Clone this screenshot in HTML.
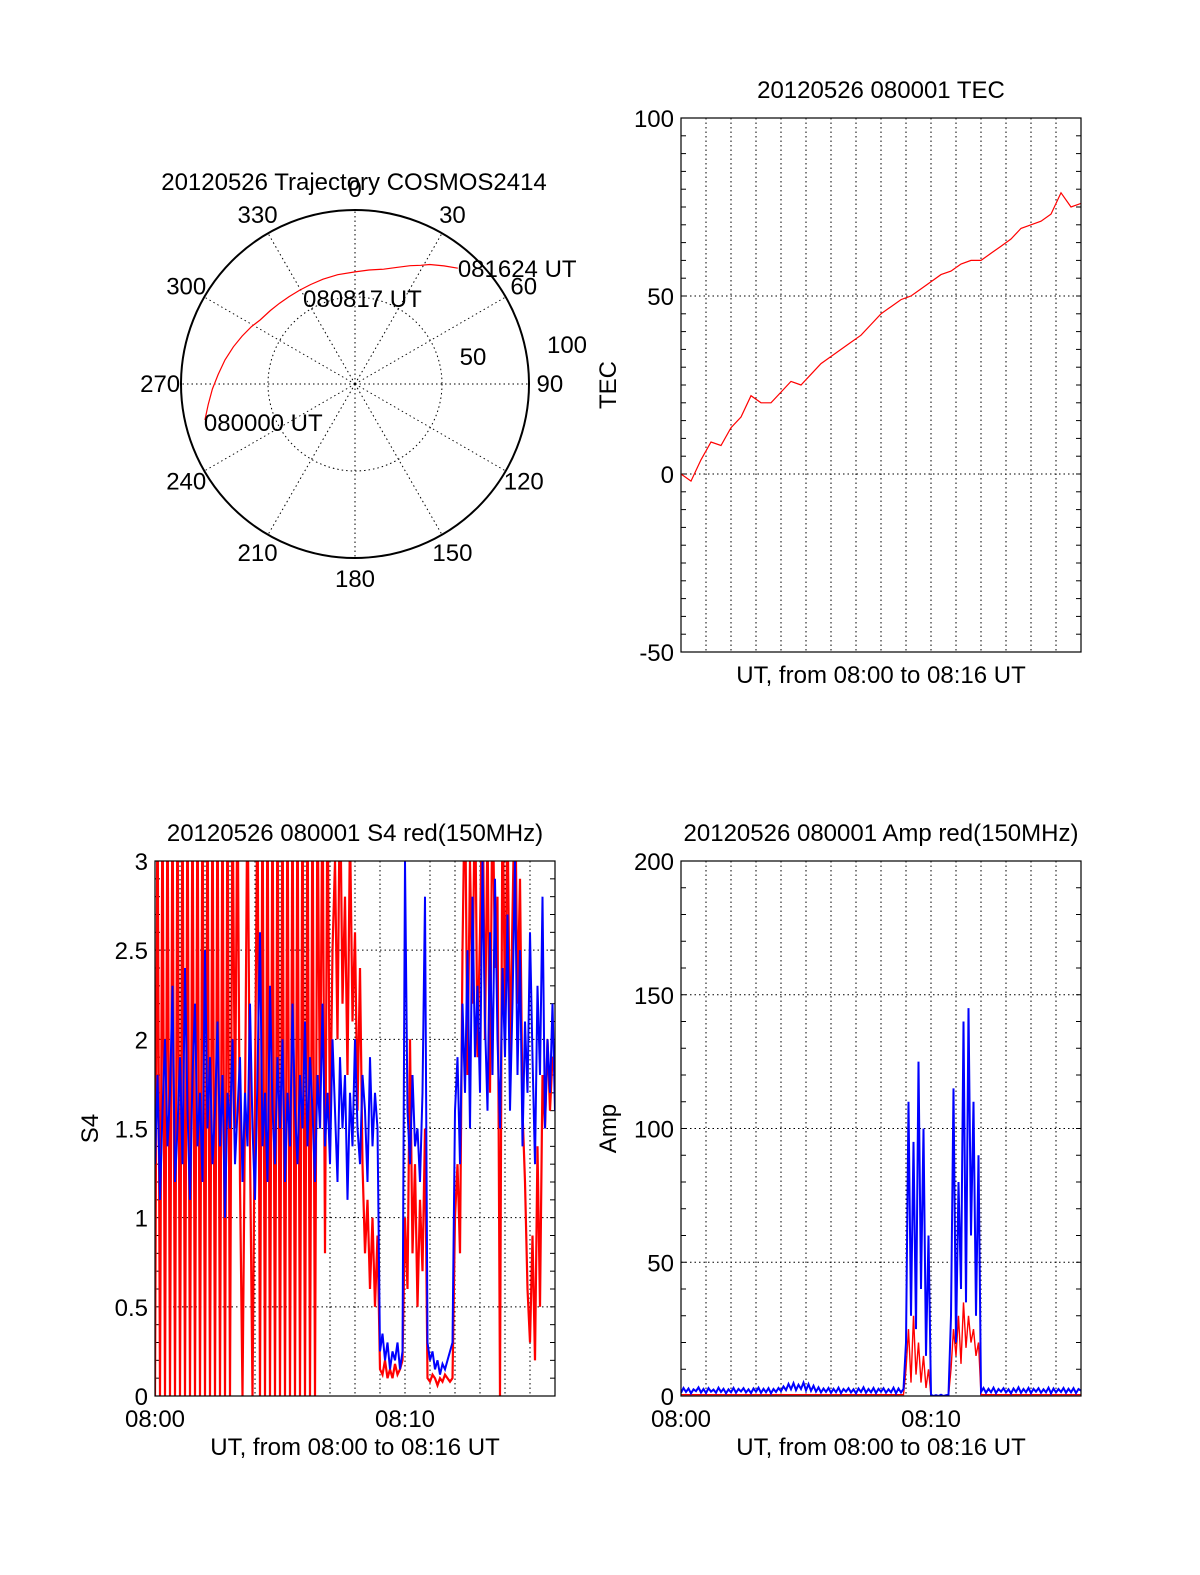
<!DOCTYPE html>
<html><head><meta charset="utf-8">
<style>
html,body{margin:0;padding:0;background:#fff;}
svg{display:block;font-family:"Liberation Sans",sans-serif;}
text{fill:#000;font-size:24px;}
</style></head>
<body>
<svg id="chart" width="1200" height="1575" viewBox="0 0 1200 1575" xmlns="http://www.w3.org/2000/svg">
<rect width="1200" height="1575" fill="#fff"/>
</svg>
<script>
// ---- data ----
const trajAz = [256.5, 262, 268, 274, 280.5, 287, 293, 299, 304, 311, 317, 323, 329.7, 336, 343, 351, 0, 7, 14, 20, 25, 29, 32, 37, 41.6];
const trajZen = [88.7, 85.2, 82, 78.8, 76, 73.1, 70.5, 68, 65.8, 64.4, 63.5, 62.9, 62.6, 62.6, 63, 63.6, 64.4, 66, 68, 71.4, 75, 78, 81, 85, 89];
const trajLabels = ["080000 UT", "080817 UT", "081624 UT"];
const polarAngles = [0,30,60,90,120,150,180,210,240,270,300,330];

const tecTimes = [0,0.4,0.8,1.2,1.6,2.0,2.4,2.8,3.2,3.6,4.0,4.4,4.8,5.2,5.6,6.0,6.4,6.8,7.2,7.6,8.0,8.4,8.8,9.2,9.6,10.0,10.4,10.8,11.2,11.6,12.0,12.4,12.8,13.2,13.6,14.0,14.4,14.8,15.2,15.6,16.0];
const tecValues = [0,-2,4,9,8,13,16,22,20,20,23,26,25,28,31,33,35,37,39,42,45,47,49,50,52,54,56,57,59,60,60,62,64,66,69,70,71,73,79,75,76];
const tecTicks = ["100","50","0","-50"];

const s4Blue = [1.3,1.8,1.1,1.6,2.0,1.4,1.7,2.3,1.2,1.5,
1.9,1.3,2.4,1.6,1.1,1.8,2.2,1.4,1.7,1.2,
2.5,1.5,1.9,1.3,1.6,2.1,1.4,1.8,1.0,1.7,
1.5,2.0,1.3,1.6,1.9,1.2,1.7,1.4,2.2,1.5,
1.1,1.8,2.6,1.4,1.7,1.2,2.3,1.6,1.3,1.9,
1.5,2.0,1.2,1.7,1.4,2.2,1.6,1.3,1.8,1.5,
2.1,1.4,1.9,1.6,1.2,1.8,1.5,2.2,1.4,1.7,
1.3,2.0,1.6,1.2,1.9,1.5,1.8,1.1,1.7,1.4,
2.0,1.5,1.3,1.8,1.6,1.2,1.9,1.4,1.7,1.5,
0.25,0.35,0.2,0.3,0.15,0.25,0.2,0.3,0.15,0.25,
3.0,1.6,1.3,1.8,1.4,1.5,1.2,1.7,2.8,
0.3,0.2,0.25,0.15,0.2,0.12,0.18,0.15,0.2,0.25,0.3,
1.6,1.9,1.3,2.2,1.7,2.5,1.5,2.8,1.9,2.3,
1.7,3.0,2.1,1.6,2.6,1.8,2.9,2.0,1.5,2.4,
1.9,2.7,1.6,2.2,3.0,1.8,2.5,1.4,2.1,1.7,
2.6,1.9,1.3,2.3,1.8,2.8,1.5,2.0,1.7,2.2,1.6];
const s4Red = [0,3.5,0,3.5,0,3.5,0,3.5,0,3.5,0,3.5,0,3.5,0,3.5,
0,3.5,0,3.5,0,3.5,0,3.5,0,3.5,0,3.5,0,3.5,0,3.5,
1.5,3.5,1.2,0,1.6,3.5,1.4,0,1.7,3.5,
0,3.5,0,3.5,0,3.5,0,3.5,0,3.5,0,3.5,0,3.5,0,3.5,0,3.5,0,3.5,0,3.5,0,3.5,
1.5,3.5,0.8,3.5,1.4,
2.5,3.0,2.0,3.5,2.2,2.8,1.8,3.2,2.1,2.6,1.6,2.4,
1.3,0.8,1.1,0.6,1.0,0.5,0.9,
0.15,0.12,0.2,0.1,0.15,0.1,0.18,0.12,0.15,0.2,
1.0,0.6,2.0,0.8,1.3,0.5,1.1,0.7,1.5,
0.1,0.08,0.12,0.1,0.06,0.1,0.08,0.12,0.1,0.08,0.1,
1.0,1.3,0.8,2.5,3.5,1.8,3.0,2.2,3.5,1.9,
2.6,3.5,2.0,3.2,1.7,3.5,2.4,2.8,0.0,3.5,
2.1,3.3,1.9,2.7,3.5,2.2,2.9,1.6,1.2,0.6,
0.3,0.9,0.2,1.4,0.5,1.8,1.5,2.0,1.6,1.9,1.8];
const s4Ticks = ["3","2.5","2","1.5","1","0.5","0"];

const ampBlue = [1.2,3,1.5,2.8,1,2.5,1.8,3.2,1.3,2.6,
1.1,2.9,1.6,2.4,1.2,3.1,1.5,2.7,1.0,2.5,
1.4,3,1.2,2.6,1.7,2.9,1.3,2.5,1.1,2.8,
1.6,3.1,1.2,2.7,1.4,2.9,1.0,2.6,1.5,3,
1.8,3.6,2.2,4.5,2.5,4.8,2.2,4.2,2.6,5,
2.1,4.4,1.9,3.8,1.6,3.2,1.3,2.8,1.5,3,
1.2,2.7,1.4,3.1,1.1,2.6,1.6,2.9,1.3,2.5,
1.0,2.8,1.5,3.2,1.2,2.6,1.4,3,1.1,2.7,
1.6,2.9,1.2,2.5,1.4,3.1,1.0,2.8,1.3,2.6,
20,110,30,95,25,125,40,100,15,60,
0.5,0,0.3,0,0.5,0,0.3,0.5,
30,115,20,80,40,140,35,145,60,110,30,90,
1.5,3,1.2,2.7,1.4,3.1,1.1,2.6,1.6,2.9,
1.3,2.5,1.0,2.8,1.5,3.2,1.2,2.6,1.4,3,
1.1,2.7,1.6,2.9,1.2,2.5,1.4,3.1,1.0,2.8,
1.3,2.6,1.5,3,1.2,2.7,1.4,2.9,1.1,2.6,2];
const ampRed = new Array(90).fill(0.5).concat(
[10,25,5,30,8,20,5,15,3,10],
[0,0,0,0,0,0,0,0],
[10,25,15,30,12,35,18,30,20,25,15,20],
new Array(41).fill(0.5));
const ampTicks = ["200","150","100","50","0"];
const xTickLabels = ["08:00","08:10"];

// ---- helpers ----
const NS = "http://www.w3.org/2000/svg";
const svg = document.getElementById('chart');
function mk(tag, attrs, parent){
  const e = document.createElementNS(NS, tag);
  for (const k in attrs) e.setAttribute(k, attrs[k]);
  (parent||svg).appendChild(e);
  return e;
}
function txt(s, x, y, anchor, parent, rot){
  const t = mk('text', {x:x, y:y, 'text-anchor':anchor||'middle'}, parent);
  if (rot) t.setAttribute('transform', 'rotate(-90 '+x+' '+y+')');
  t.textContent = s;
  return t;
}

// ---- polar ----
const pg = mk('g', {});


const cx = 355, cy = 384, R = 174;
function pxy(az, zen){ const a = az*Math.PI/180, r = zen/100*R; return [cx + r*Math.sin(a), cy - r*Math.cos(a)]; }
const inner = mk('circle', {cx:cx, cy:cy, r:R*0.5, fill:'none', stroke:'#000', 'stroke-dasharray':'1.5,3'}, pg);


polarAngles.forEach(a => {
  const p = pxy(a, 100);
  const l = mk('line', {x1:cx, y1:cy, x2:p[0], y2:p[1], stroke:'#000', 'stroke-dasharray':'1.5,3'}, pg);
  
  
  const q = pxy(a, 112);
  const t = txt(String(a), q[0], q[1]+8, 'middle', pg);
  
  
});
const outer = mk('circle', {cx:cx, cy:cy, r:R, fill:'none', stroke:'#000', 'stroke-width':2}, pg);


const z50 = txt('50', 473, 365, 'middle', pg);


const z100 = txt('100', 567, 353, 'middle', pg);


const tpts = trajAz.map((a,i)=>pxy(a, trajZen[i]).map(v=>v.toFixed(1)).join(',')).join(' ');
const traj = mk('polyline', {points:tpts, fill:'none', stroke:'#f00', 'stroke-width':1.2}, pg);


const pStart = pxy(trajAz[0], trajZen[0]);
const l0 = txt(trajLabels[0], pStart[0]-1, pStart[1]+11, 'start', pg);


const l1 = txt(trajLabels[1], 303, 307, 'start', pg);


const pEnd = pxy(trajAz[trajAz.length-1], trajZen[trajZen.length-1]);
const l2 = txt(trajLabels[2], pEnd[0], pEnd[1]+9, 'start', pg);


const pt = txt('20120526 Trajectory COSMOS2414', 354, 190, 'middle', pg);



// ---- rectangular panels ----
function panel(name, x0, y0, w, h, ymin, ymax, yticks, minorStep, title, ytitle, ytitleX, showX){
  const g = mk('g', {});
  
  
  const X = t => x0 + t/16*w;
  const Y = v => y0 + h - (v-ymin)/(ymax-ymin)*h;
  const clipId = name+'-clip';
  const cp = mk('clipPath', {id:clipId}, g);
  mk('rect', {x:x0, y:y0, width:w, height:h}, cp);
  for (let m=1;m<16;m++){
    const l = mk('line', {x1:X(m), y1:y0, x2:X(m), y2:y0+h, stroke:'#000', 'stroke-dasharray':'1.5,3'}, g);
    
    
  }
  const n = yticks.length;
  yticks.forEach((s,i)=>{
    const v = parseFloat(s);
    const y = Y(v);
    if (i>0 && i<n-1){
      const l = mk('line', {x1:x0, y1:y, x2:x0+w, y2:y, stroke:'#000', 'stroke-dasharray':'1.5,3'}, g);
      
      
    }
    const t = txt(s, x0-7, y+9, 'end', g);
    
    
  });
  for (let v=ymin; v<=ymax+1e-9; v+=minorStep){
    const y = Y(v);
    mk('line', {x1:x0, y1:y, x2:x0+5, y2:y, stroke:'#000'}, g);
    mk('line', {x1:x0+w-5, y1:y, x2:x0+w, y2:y, stroke:'#000'}, g);
  }
  if (showX){
    xTickLabels.forEach((s,i)=>{
      const t = txt(s, X(i*10), y0+h+31, 'middle', g);
      
      
    });
  }
  const tt = txt(title, x0+w/2, y0-20, 'middle', g);
  
  
  const yt = txt(ytitle, ytitleX, y0+h/2, 'middle', g, true);
  
  
  const xt = txt('UT, from 08:00 to 08:16 UT', x0+w/2, showX ? y0+h+59 : y0+h+31, 'middle', g);
  
  
  const plot = mk('g', {'clip-path':'url(#'+clipId+')'}, g);
  return {g, plot, X, Y, x0, y0, w, h};
}
function series(p, times, vals, color, name, sw){
  const pts = vals.map((v,i)=>p.X(times[i]).toFixed(1)+','+p.Y(v).toFixed(1)).join(' ');
  const pl = mk('polyline', {points:pts, fill:'none', stroke:color, 'stroke-width':sw||1.2}, p.plot);
  
  
}
function frame(p){
  const r = mk('rect', {x:p.x0, y:p.y0, width:p.w, height:p.h, fill:'none', stroke:'#000', 'stroke-width':1.2}, p.g);
  
  
}
const t160 = s4Blue.map((_,i)=>i*0.1);

const tec = panel('tec-panel', 681, 118, 400, 534, -50, 100, tecTicks, 5, '20120526 080001 TEC', 'TEC', 616, false);
series(tec, tecTimes, tecValues, '#f00', 'tec-line', 1.2);
frame(tec);

const s4 = panel('s4-panel', 155, 861, 400, 535, 0, 3, s4Ticks, 0.1, '20120526 080001 S4 red(150MHz)', 'S4', 98, true);
series(s4, t160, s4Red, '#f00', 's4-red-line', 2.2);
series(s4, t160, s4Blue, '#00f', 's4-blue-line', 2);
frame(s4);

const amp = panel('amp-panel', 681, 861, 400, 535, 0, 200, ampTicks, 10, '20120526 080001 Amp red(150MHz)', 'Amp', 616, true);
series(amp, t160, ampRed, '#f00', 'amp-red-line', 1.4);
series(amp, t160, ampBlue, '#00f', 'amp-blue-line', 2);
frame(amp);
</script>
</body></html>
